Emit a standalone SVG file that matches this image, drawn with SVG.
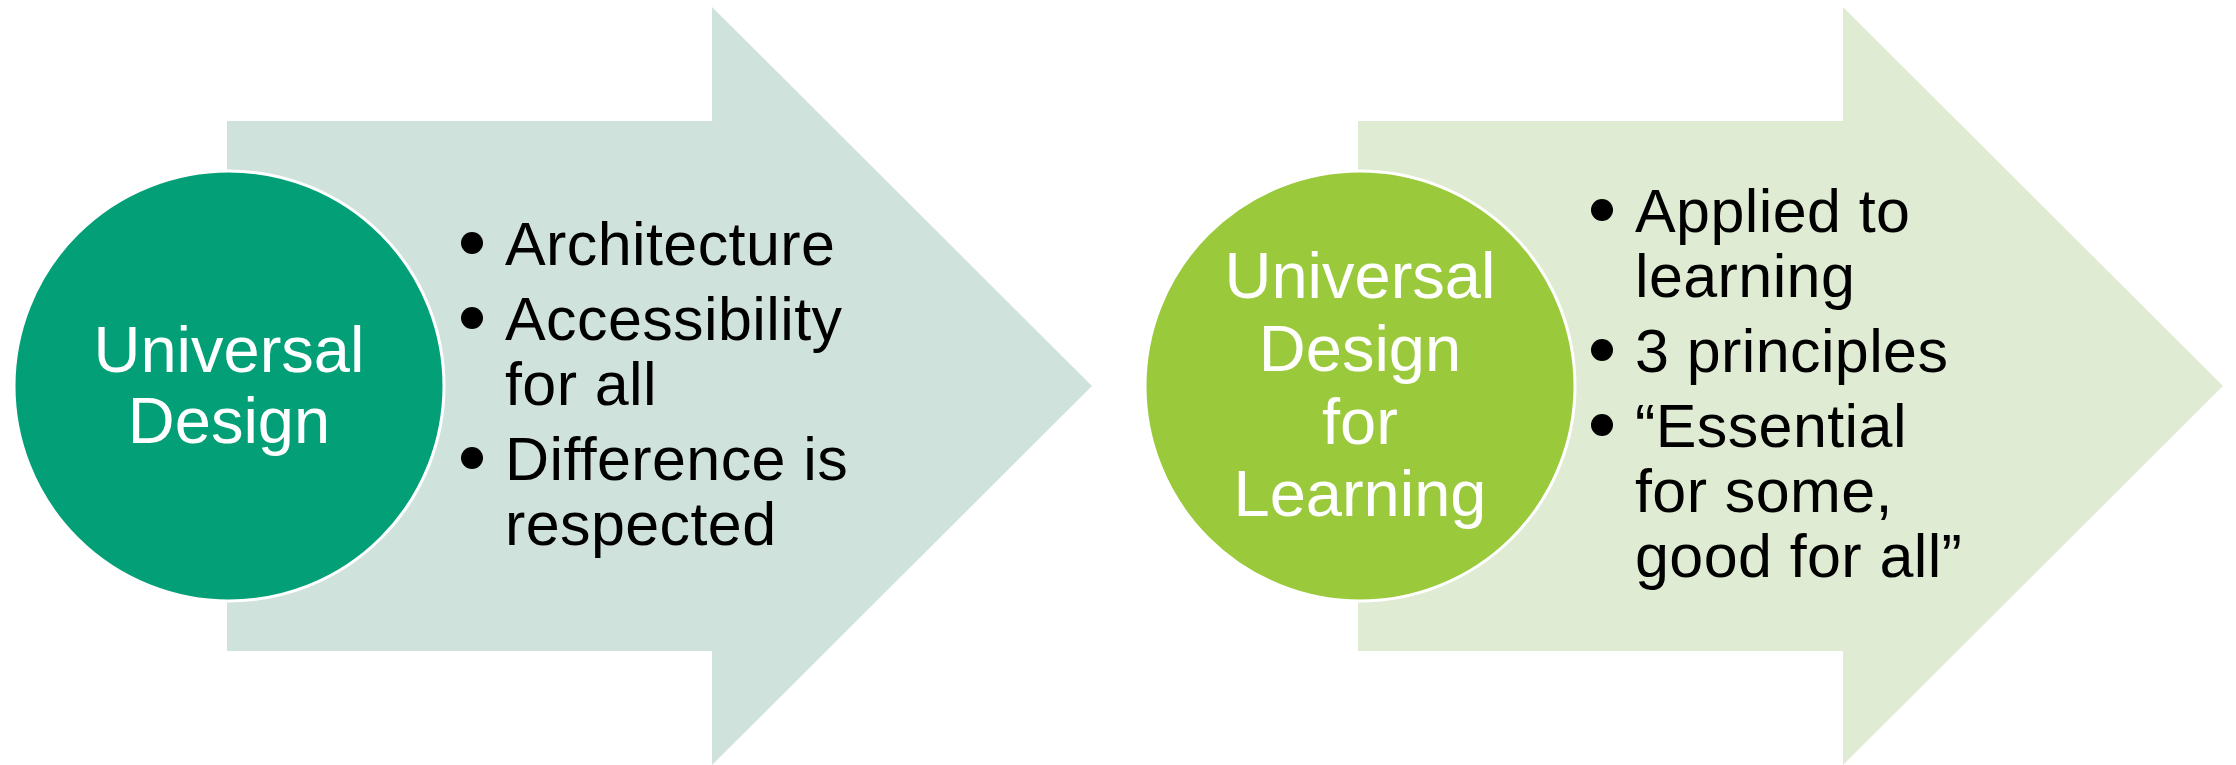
<svg xmlns="http://www.w3.org/2000/svg" width="2236" height="765" viewBox="0 0 2236 765">
<style>
.t{font-family:"Liberation Sans",Arial,Helvetica,sans-serif;}
.ct{fill:#ffffff;font-size:65px;text-anchor:middle;}
.bt{fill:#000000;font-size:61px;letter-spacing:0.4px;}
.circ{stroke:#ffffff;stroke-width:3;}
</style>
<rect x="0" y="0" width="2236" height="765" fill="#ffffff"/>
<g id="arrow1">
<polygon points="227,121 712,121 712,7 1092,386 712,765 712,651 227,651" fill="#D0E2DC"/>
</g>
<g id="arrow2">
<polygon points="1358,121 1843,121 1843,7 2223,386 1843,765 1843,651 1358,651" fill="#DFECD3"/>
</g>
<g id="circle1">
<circle class="circ" cx="229" cy="386" r="215" fill="#03A078"/>
<text class="t ct" x="229" y="372">Universal</text>
<text class="t ct" x="229" y="443">Design</text>
</g>
<g id="circle2">
<circle class="circ" cx="1360" cy="386" r="215" fill="#9ACA3C"/>
<text class="t ct" x="1360" y="298">Universal</text>
<text class="t ct" x="1360" y="371">Design</text>
<text class="t ct" x="1360" y="444">for</text>
<text class="t ct" x="1360" y="516">Learning</text>
</g>
<g id="list1">
<circle cx="472" cy="243" r="11" fill="#000"/>
<circle cx="472" cy="318" r="11" fill="#000"/>
<circle cx="472" cy="458" r="11" fill="#000"/>
<text class="t bt" x="505" y="265">Architecture</text>
<text class="t bt" x="505" y="340">Accessibility</text>
<text class="t bt" x="505" y="405">for all</text>
<text class="t bt" x="505" y="480">Difference is</text>
<text class="t bt" x="505" y="545">respected</text>
</g>
<g id="list2">
<circle cx="1602" cy="210" r="11" fill="#000"/>
<circle cx="1602" cy="350" r="11" fill="#000"/>
<circle cx="1602" cy="425" r="11" fill="#000"/>
<text class="t bt" x="1635" y="232">Applied to</text>
<text class="t bt" x="1635" y="297">learning</text>
<text class="t bt" x="1635" y="372">3 principles</text>
<text class="t bt" x="1635" y="447">“Essential</text>
<text class="t bt" x="1635" y="512">for some,</text>
<text class="t bt" x="1635" y="577">good for all”</text>
</g>
<g id="connectors"></g>
</svg>
